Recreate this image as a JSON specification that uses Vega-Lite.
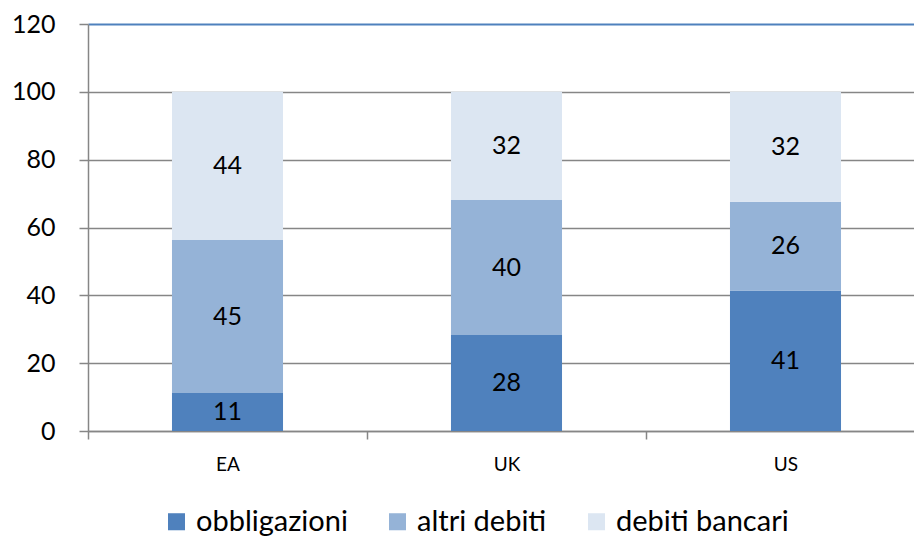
{
  "$schema": "https://vega.github.io/schema/vega-lite/v6.json",
  "width": 837,
  "height": 407,
  "autosize": {"type": "none"},
  "padding": {"left": 88, "top": 24, "right": 0, "bottom": 106},
  "background": "white",
  "config": {"view": {"stroke": null}, "font": "Lato"},
  "data": {
    "values": [
      {"paese": "EA", "serie": "obbligazioni", "k": 1, "valore": 11.2},
      {"paese": "EA", "serie": "altri debiti", "k": 2, "valore": 45.1},
      {"paese": "EA", "serie": "debiti bancari", "k": 3, "valore": 43.7},
      {"paese": "UK", "serie": "obbligazioni", "k": 1, "valore": 28.3},
      {"paese": "UK", "serie": "altri debiti", "k": 2, "valore": 39.8},
      {"paese": "UK", "serie": "debiti bancari", "k": 3, "valore": 31.9},
      {"paese": "US", "serie": "obbligazioni", "k": 1, "valore": 41.4},
      {"paese": "US", "serie": "altri debiti", "k": 2, "valore": 26.2},
      {"paese": "US", "serie": "debiti bancari", "k": 3, "valore": 32.4}
    ]
  },
  "transform": [
    {"stack": "valore", "groupby": ["paese"], "sort": [{"field": "k", "order": "ascending"}], "as": ["v0", "v1"]},
    {"calculate": "(datum.v0 + datum.v1) / 2", "as": "mid"}
  ],
  "encoding": {
    "x": {
      "field": "paese",
      "type": "nominal",
      "sort": ["EA", "UK", "US"],
      "scale": {"paddingInner": 0, "paddingOuter": 0},
      "axis": {
        "title": null,
        "labelAngle": 0,
        "labelFontSize": 19,
        "labelColor": "#000000",
        "labelPadding": 16,
        "tickBand": "extent",
        "tickSize": 8,
        "tickColor": "#868686",
        "tickWidth": 1.5,
        "domainColor": "#868686",
        "domainWidth": 1.5,
        "grid": false
      }
    }
  },
  "layer": [
    {
      "mark": {"type": "bar", "width": {"band": 0.398}},
      "encoding": {
        "y": {
          "field": "v1",
          "type": "quantitative",
          "scale": {"domain": [0, 120], "nice": false},
          "axis": {
            "title": null,
            "values": [0, 20, 40, 60, 80, 100, 120],
            "labelFontSize": 25,
            "labelColor": "#000000",
            "labelPadding": 24,
            "tickSize": 9,
            "tickColor": "#868686",
            "tickWidth": 1.5,
            "domainColor": "#868686",
            "domainWidth": 1.5,
            "grid": true,
            "gridColor": {"condition": {"test": "datum.value === 120", "value": "#4F81BD"}, "value": "#868686"},
            "gridWidth": {"condition": {"test": "datum.value === 120", "value": 2}, "value": 1.5},
            "gridOpacity": 1
          }
        },
        "y2": {"field": "v0"},
        "color": {
          "field": "serie",
          "type": "nominal",
          "scale": {
            "domain": ["obbligazioni", "altri debiti", "debiti bancari"],
            "range": ["#4F81BD", "#95B3D7", "#DCE6F2"]
          },
          "legend": {
            "title": null,
            "orient": "none",
            "direction": "horizontal",
            "legendX": 74,
            "legendY": 483,
            "symbolType": "square",
            "symbolSize": 290,
            "symbolStrokeWidth": 0,
            "labelFontSize": 29,
            "labelColor": "#000000",
            "labelOffset": 5,
            "labelLimit": 400,
            "columnPadding": 35
          }
        }
      }
    },
    {
      "mark": {"type": "text", "fontSize": 25, "color": "#000000", "baseline": "middle"},
      "encoding": {
        "y": {"field": "mid", "type": "quantitative"},
        "text": {"field": "valore", "type": "quantitative", "format": ".0f"}
      }
    }
  ]
}
